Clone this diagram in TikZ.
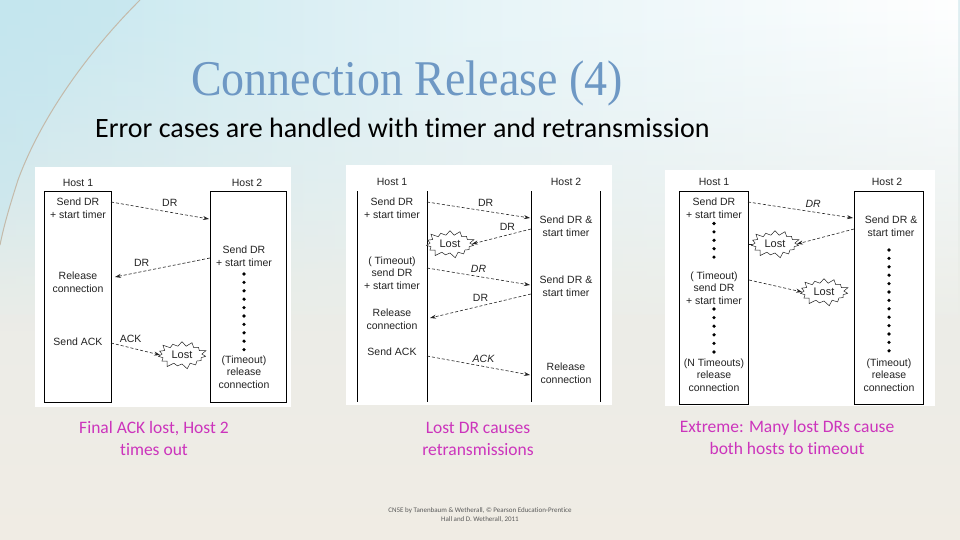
\documentclass[tikz,border=0pt]{standalone}
\usepackage{fontspec}
\setmainfont{Liberation Sans}
\newfontfamily\titlefont{Liberation Serif}
\newfontfamily\calfont[Ligatures={NoCommon}]{Carlito}
\usetikzlibrary{shapes.symbols,arrows.meta,fadings}
\definecolor{titleblue}{RGB}{110,152,196}
\definecolor{capmag}{RGB}{204,52,188}
\definecolor{diagtext}{RGB}{35,35,35}
\definecolor{bgtop}{RGB}{222,238,242}
\definecolor{bgbot}{RGB}{240,236,228}
\definecolor{bgcyan}{RGB}{196,230,238}
\definecolor{arcline}{RGB}{196,186,170}
\tikzfading[name=fadedown, top color=transparent!0, bottom color=transparent!100]
\tikzset{
  panel/.style={fill=white,draw=none},
  hostbox/.style={draw=black,line width=1pt},
  hostline/.style={draw=black,line width=1pt},
  lbl/.style={font=\fontsize{10.5}{12.6}\selectfont,text=diagtext,align=center,inner sep=0pt},
  msg/.style={font=\fontsize{10.5}{12.6}\selectfont,text=diagtext,inner sep=0pt},
  msgarrow/.style={draw=diagtext,line width=0.6pt,dash pattern=on 3pt off 2pt,-{Stealth[length=6pt,width=4pt]}},
  msgline/.style={draw=diagtext,line width=0.6pt,dash pattern=on 3pt off 2pt},
  lost/.style={starburst,starburst points=15,starburst point height=6pt,draw=diagtext,line width=0.5pt,fill=white,font=\fontsize{11}{12}\selectfont,text=diagtext,inner sep=1pt,minimum width=52pt,minimum height=30pt},
  dot/.style={fill=black,circle,inner sep=0pt,minimum size=3.6pt},
  caption/.style={font=\calfont\fontsize{17.5}{22}\selectfont,text=capmag,align=center},
}
\begin{document}
\begin{tikzpicture}[x=1pt,y=-1pt]
\useasboundingbox (0,0) rectangle (960,540);
% background
\shade[top color=bgtop,bottom color=bgbot,middle color=bgbot!70!bgtop] (0,0) rectangle (960,540);
\shade[left color=bgcyan,right color=white,middle color=white!60!bgcyan,path fading=fadedown] (0,0) rectangle (960,330);
\fill[bgcyan,opacity=0.5] (0,0) -- (140,0) .. controls (85,55) and (40,120) .. (18,180) .. controls (10,205) and (4,225) .. (0,245) -- cycle;
\draw[arcline,line width=1pt] (140,0) .. controls (85,55) and (40,120) .. (18,180) .. controls (10,205) and (4,225) .. (0,245);

% titles
\node[font=\titlefont\fontsize{50}{54}\selectfont,text=titleblue,inner sep=0pt] (title) at (407,83) {\scalebox{0.92}[1]{Connection Release (4)}};
\node[font=\calfont\fontsize{28}{32}\selectfont,text=black,anchor=west,inner sep=0pt] (sub) at (95,128) {Error cases are handled with timer and retransmission};

% ================= Panel 1 =================
\fill[panel] (35,167) rectangle (291,407);
\draw[hostbox] (44,191) rectangle (111,402);
\draw[hostbox] (210,191) rectangle (286,402);
\node[lbl] (p1h1) at (78,183) {Host 1};
\node[lbl] (p1h2) at (247,183) {Host 2};
\node[lbl] (p1a) at (78,208.5) {Send DR\\+ start timer};
\node[lbl] (p1b) at (78,282.5) {Release\\connection};
\node[lbl] (p1c) at (78,342) {Send ACK};
\node[lbl] (p1d) at (244,256.5) {Send DR\\+ start timer};
\node[lbl] (p1e) at (244,372) {(Timeout)\\release\\connection};
\foreach \i in {0,...,9} \node[dot] at (244,{274+\i*8.4}) {};
\coordinate (p1s1) at (111,202);
\coordinate (p1t1) at (209,219);
\draw[msgarrow] (p1s1) -- (p1t1) node[msg,pos=0.6,above=5pt] {DR};
\coordinate (p1s2) at (210,258);
\coordinate (p1t2) at (115,277);
\draw[msgarrow] (p1s2) -- (p1t2) node[msg,pos=0.72,above=5pt] {DR};
\node[lost] (p1lost) at (182,355) {Lost};
\coordinate (p1s3) at (111,343);
\draw[msgarrow] (p1s3) -- (p1lost.west) node[msg,pos=0.4,above=5pt] {ACK};

% ================= Panel 2 =================
\fill[panel] (346,165) rectangle (612,405);
\foreach \x/\n in {357/a,427/b,531/c,600/d} \draw[hostline] (\x,191) coordinate (p2\n t) -- (\x,402) coordinate (p2\n b);
\node[lbl] (p2h1) at (392,182) {Host 1};
\node[lbl] (p2h2) at (566,182) {Host 2};
\node[lbl] (p2a) at (392,208.5) {Send DR\\+ start timer};
\node[lbl] (p2b) at (392,273) {( Timeout)\\send DR\\+ start timer};
\node[lbl] (p2c) at (392,319.5) {Release\\connection};
\node[lbl] (p2d) at (392,352) {Send ACK};
\node[lbl] (p2e) at (566,226) {Send DR \&\\start timer};
\node[lbl] (p2f) at (566,286) {Send DR \&\\start timer};
\node[lbl] (p2g) at (566,373) {Release\\connection};
\coordinate (p2s1) at (427,202);
\coordinate (p2t1) at (530,218);
\draw[msgarrow] (p2s1) -- (p2t1) node[msg,pos=0.57,above=4pt] {DR};
\node[lost] (p2lost) at (450,244) {Lost};
\coordinate (p2s2) at (531,229);
\draw[msgarrow] (p2s2) -- (p2lost.east) node[msg,pos=0.4,above=4pt] {DR};
\coordinate (p2s3) at (427,268);
\coordinate (p2t3) at (530,285);
\draw[msgarrow] (p2s3) -- (p2t3) node[msg,pos=0.5,above=4pt] {\textit{DR}};
\coordinate (p2s4) at (531,294);
\coordinate (p2t4) at (430,318);
\draw[msgarrow] (p2s4) -- (p2t4) node[msg,pos=0.5,above=4pt] {DR};
\coordinate (p2s5) at (427,356);
\coordinate (p2t5) at (530,375);
\draw[msgarrow] (p2s5) -- (p2t5) node[msg,pos=0.55,above=4pt] {\textit{ACK}};

% ================= Panel 3 =================
\fill[panel] (665,170) rectangle (935,406);
\draw[hostbox] (679,191) rectangle (748,404);
\draw[hostbox] (854,191) rectangle (923,404);
\node[lbl] (p3h1) at (714,182) {Host 1};
\node[lbl] (p3h2) at (887,182) {Host 2};
\node[lbl] (p3a) at (714,208.5) {Send DR\\+ start timer};
\node[lbl] (p3b) at (714,288) {( Timeout)\\send DR\\+ start timer};
\node[lbl] (p3c) at (714,375) {(N Timeouts)\\release\\connection};
\node[lbl] (p3d) at (891,226) {Send DR \&\\start timer};
\node[lbl] (p3e) at (889,375) {(Timeout)\\release\\connection};
\foreach \i in {0,...,4} \node[dot] at (714,{223.5+\i*8.4}) {};
\foreach \i in {0,...,5} \node[dot] at (714,{309+\i*8.6}) {};
\foreach \i in {0,...,12} \node[dot] at (889,{250+\i*8.4}) {};
\coordinate (p3s1) at (748,202);
\coordinate (p3t1) at (853,218);
\draw[msgarrow] (p3s1) -- (p3t1) node[msg,pos=0.62,above=4pt] {\textit{DR}};
\node[lost] (p3lost1) at (775,244) {Lost};
\coordinate (p3s2) at (854,229);
\draw[msgarrow] (p3s2) -- (p3lost1.east);
\coordinate (p3u) at (749,244);
\draw[msgline] (p3u) -- (p3lost1.west);
\node[lost] (p3lost2) at (824,292) {Lost};
\coordinate (p3s3) at (749,280);
\draw[msgarrow] (p3s3) -- (p3lost2.west);

% captions
\node[caption] (cap1) at (154,438) {Final ACK lost, Host 2\\times out};
\node[caption] (cap2) at (478,439) {Lost DR causes\\retransmissions};
\node[caption] (cap3) at (787,437) {Extreme: Many lost DRs cause\\both hosts to timeout};
\node[font=\calfont\fontsize{7}{9.5}\selectfont,text=gray!70!black,align=center] (foot) at (480,515) {CN5E by Tanenbaum \& Wetherall, © Pearson Education-Prentice\\Hall and D. Wetherall, 2011};
\end{tikzpicture}
\end{document}
